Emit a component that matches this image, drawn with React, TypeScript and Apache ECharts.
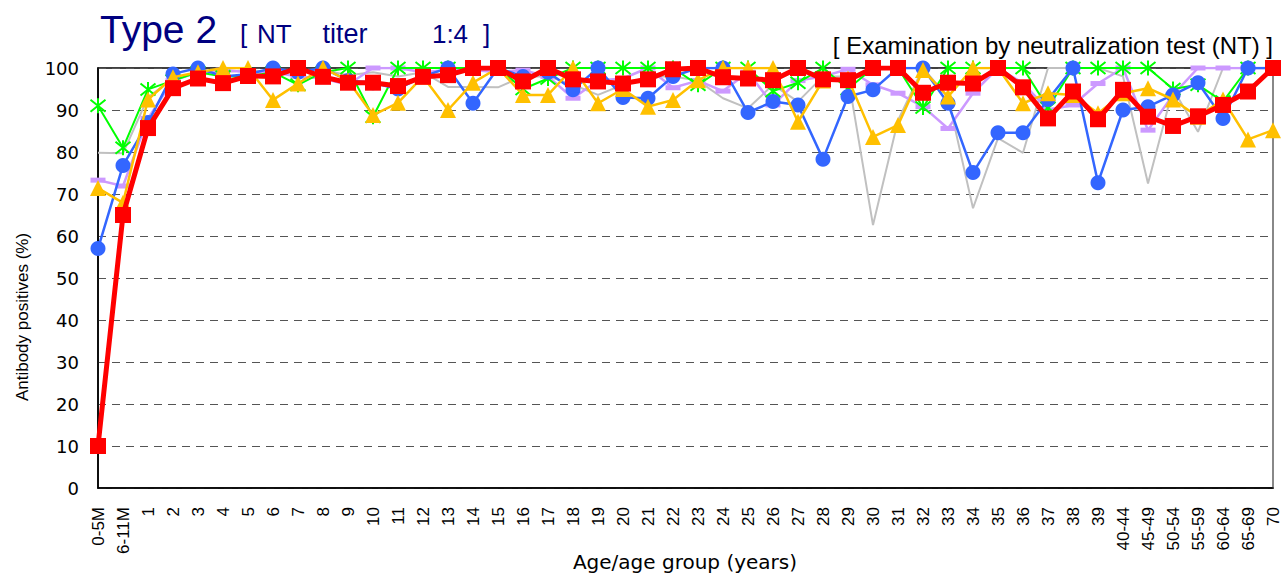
import React, { useEffect, useRef } from "react";
import * as echarts from "echarts";

const categories = [
  "0-5M", "6-11M", "1", "2", "3", "4", "5", "6", "7", "8", "9", "10", "11", "12", "13", "14", "15", "16", "17", "18", "19",
  "20", "21", "22", "23", "24", "25", "26", "27", "28", "29", "30", "31", "32", "33", "34", "35", "36", "37", "38", "39",
  "40-44", "45-49", "50-54", "55-59", "60-64", "65-69", "70",
];

const grayValues = [
  79.8, 79.7, 93, 97.5, 99, 99, 99.5, 99, 99, 99.5, 98.3, 99, 98, 99, 95.5, 95.5, 95.4, 98, 98, 96, 93.6,
  96, 98, 98, 97, 92.8, 90.4, 96, 92, 98, 98, 62.6, 87.5, 100, 93, 66.6, 83.3, 79.8, 100, 100, 100,
  98, 72.5, 95, 84.8, 100, 100, 100,
];

const lavenderValues = [
  73.3, 71.9, 88, 97, 99, 99.5, 99, 99, 98, 97.5, 96, 100, 100, 99, 99.5, 99.5, 99, 99.5, 98, 92.8, 97,
  97.5, 100, 95.3, 97, 94.5, 99, 91.2, 97, 98, 99.7, 96, 94, 90.8, 85.6, 94, 100, 96.4, 90, 91.2, 96.3,
  100, 85.2, 93.6, 100, 100, 100, 100,
];

const greenValues = [
  91, 81, 94.9, 97, 99, 98, 98, 99, 96, 99, 100, 88.4, 100, 100, 100, 100, 100, 95, 97.5, 100, 100,
  100, 100, 100, 96, 100, 100, 94.5, 96.5, 100, 95, 100, 100, 90.6, 100, 100, 100, 100, 90.5, 100, 100,
  100, 100, 95, 96, 92, 100, 100,
];

const blueValues = [
  57, 76.8, 87, 98.6, 100, 98, 98.5, 100, 99, 100, 97, 96.5, 95, 98, 100, 91.6, 100, 98, 99, 94.8, 100,
  93, 92.8, 98, 100, 100, 89.4, 92, 91.2, 78.3, 93.2, 94.8, 100, 100, 91.6, 75.1, 84.6, 84.6, 92.5, 100, 72.7,
  90, 90.8, 93.6, 96.5, 88, 100, 100,
];

const yellowValues = [
  71.4, 67.9, 92.5, 97.8, 99, 100, 100, 92.4, 96.3, 100, 97, 88.8, 91.7, 98, 90, 96.5, 100, 93.6, 93.6, 100, 91.6,
  95, 90.8, 92.4, 97.1, 100, 100, 100, 87.2, 97, 97.5, 83.6, 86.4, 99.5, 93.2, 100, 100, 91.6, 94, 93.6, 89.2,
  94, 95.2, 92.5, 88.4, 92.5, 83, 85.2,
];

const redValues = [
  10, 65, 85.7, 95.2, 97.5, 96.4, 98.1, 98, 100, 97.9, 96.5, 96.5, 95.7, 97.9, 98.3, 100, 100, 96.8, 100, 97.3, 96.8,
  96.3, 97.3, 99.7, 100, 97.8, 97.5, 97.1, 100, 97.3, 97.1, 100, 100, 94.1, 96.5, 96.3, 100, 95.4, 88, 94.4, 87.8,
  94.8, 88.4, 86.2, 88.5, 91.2, 94.4, 100,
];

const yTicks = { min: 0, max: 100, interval: 10 };

const asterisk = "path://M1,1L9,9M9,1L1,9M5,0L5,10";

export default function App() {
  const ref = useRef<HTMLDivElement>(null);
  useEffect(() => {
    if (!ref.current) return;
    const chart = echarts.init(ref.current, null, { renderer: "svg" });
    const option: any = {
      animation: false,
      backgroundColor: "#fff",
      grid: {
        left: 98,
        right: 14,
        top: 68,
        bottom: 88,
        containLabel: false,
        outerBoundsMode: "none",
        show: true,
        borderColor: "#000",
        borderWidth: 1.5,
      },
      xAxis: {
        type: "category",
        data: categories,
        boundaryGap: false,
        axisLine: { show: true, lineStyle: { color: "#000", width: 1.5 } },
        axisTick: { show: false },
        axisLabel: {
          rotate: 90,
          margin: 19,
          interval: 0,
          fontFamily: "Liberation Sans",
          fontSize: 17,
          color: "#000",
        },
        splitLine: { show: false },
      },
      yAxis: [
        {
          type: "value",
          min: yTicks.min,
          max: yTicks.max,
          interval: yTicks.interval,
          axisLine: { show: true, lineStyle: { color: "#000", width: 1.5 } },
          axisTick: { show: false },
          axisLabel: { margin: 19, fontFamily: "DejaVu Sans", fontSize: 18, color: "#000" },
          splitLine: { show: true, lineStyle: { type: [8, 6], color: "#555", width: 1 } },
        },
        {
          type: "value",
          position: "right",
          min: yTicks.min,
          max: yTicks.max,
          interval: yTicks.interval,
          axisLine: { show: true, lineStyle: { color: "#888", width: 2 } },
          axisTick: { show: false },
          axisLabel: { show: false },
          splitLine: { show: false },
        },
      ],
      series: [
        {
          name: "gray",
          type: "line",
          data: grayValues,
          symbol: "none",
          lineStyle: { color: "#C0C0C0", width: 2 },
          z: 2,
        },
        {
          name: "lavender",
          type: "line",
          data: lavenderValues,
          symbol: "rect",
          symbolSize: [15, 5],
          lineStyle: { color: "#CC99FF", width: 2.5 },
          itemStyle: { color: "#CC99FF", borderWidth: 0 },
          z: 3,
        },
        {
          name: "green",
          type: "line",
          data: greenValues,
          symbol: asterisk,
          symbolSize: 15,
          lineStyle: { color: "#00FF00", width: 2 },
          itemStyle: { color: "#00FF00", borderColor: "#00FF00", borderWidth: 2 },
          z: 4,
        },
        {
          name: "blue",
          type: "line",
          data: blueValues,
          symbol: "circle",
          symbolSize: 15,
          lineStyle: { color: "#3366FF", width: 2.5 },
          itemStyle: { color: "#3366FF", borderWidth: 0 },
          z: 5,
        },
        {
          name: "yellow",
          type: "line",
          data: yellowValues,
          symbol: "triangle",
          symbolSize: 16,
          lineStyle: { color: "#FFC000", width: 2.5 },
          itemStyle: { color: "#FFC000", borderWidth: 0 },
          z: 6,
        },
        {
          name: "red",
          type: "line",
          data: redValues,
          symbol: "rect",
          symbolSize: 16,
          lineStyle: { color: "#FF0000", width: 5 },
          itemStyle: { color: "#FF0000", borderWidth: 0 },
          z: 7,
        },
      ],
      graphic: [
        {
          type: "text",
          x: 22,
          y: 317,
          rotation: Math.PI / 2,
          style: {
            text: "Antibody positives (%)",
            font: '17px "Liberation Sans"',
            fill: "#000",
            align: "center",
            verticalAlign: "middle",
          },
        },
        {
          type: "text",
          x: 685,
          y: 562,
          style: {
            text: "Age/age group (years)",
            font: '20px "DejaVu Sans"',
            fill: "#000",
            align: "center",
            verticalAlign: "middle",
          },
        },
        {
          type: "text",
          x: 100,
          y: 29,
          style: { text: "Type 2", font: '39px "Liberation Sans"', fill: "#000080", verticalAlign: "middle" },
        },
        {
          type: "text",
          x: 240,
          y: 34,
          style: { text: "[", font: '26px "Liberation Sans"', fill: "#000080", verticalAlign: "middle" },
        },
        {
          type: "text",
          x: 257,
          y: 34,
          style: { text: "NT", font: '26px "Liberation Sans"', fill: "#000080", verticalAlign: "middle" },
        },
        {
          type: "text",
          x: 345,
          y: 34,
          style: { text: "titer", font: '27px "Liberation Sans"', fill: "#000080", verticalAlign: "middle", align: "center" },
        },
        {
          type: "text",
          x: 450,
          y: 34,
          style: { text: "1:4", font: '26px "Liberation Sans"', fill: "#000080", verticalAlign: "middle", align: "center" },
        },
        {
          type: "text",
          x: 483,
          y: 34,
          style: { text: "]", font: '26px "Liberation Sans"', fill: "#000080", verticalAlign: "middle" },
        },
        {
          type: "text",
          x: 1273,
          y: 45,
          style: {
            text: "[ Examination by neutralization test (NT) ]",
            font: '24px "Liberation Sans"',
            fill: "#000",
            verticalAlign: "middle",
            align: "right",
          },
        },
      ],
    };
    chart.setOption(option);
    return () => chart.dispose();
  }, []);
  return <div ref={ref} style={{ position: "fixed", left: 0, top: 0, width: 1287, height: 576 }} />;
}
